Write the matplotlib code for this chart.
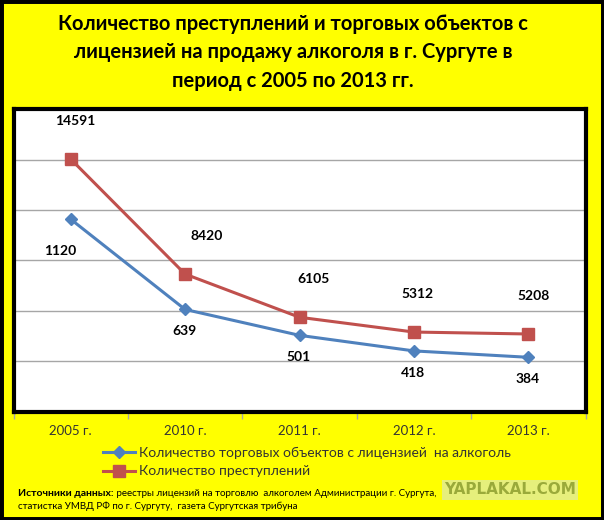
# Crimes vs licensed alcohol shops in Surgut, 2005-2013

import numpy as np
import matplotlib.pyplot as plt
from matplotlib.patches import Rectangle
from matplotlib.lines import Line2D

plt.rcParams['font.family'] = ['Lato', 'DejaVu Sans']

years = ['2005 г.', '2010 г.', '2011 г.', '2012 г.', '2013 г.']
shops = [1120, 639, 501, 418, 384]
crimes = [14591, 8420, 6105, 5312, 5208]

shops_label = 'Количество торговых объектов с лицензией  на алкоголь'
crimes_label = 'Количество преступлений'

title = ('Количество преступлений и торговых объектов с\n'
         'лицензией на продажу алкоголя в г. Сургуте в\n'
         'период с 2005 по 2013 гг.')

BLUE = '#4F81BD'
RED = '#C0504D'
YELLOW = '#FFFF00'

fig = plt.figure(figsize=(6.04, 5.2), dpi=100, facecolor=YELLOW)
ax = fig.add_axes([13.5 / 604, 1 - 411.5 / 520, 572 / 604, 302 / 520])
ax.set_facecolor('white')
ax2 = ax.twinx()

x = np.arange(len(years))

ax.set_xlim(-0.5, len(years) - 0.5)
ax.set_ylim(95, 1705)
ax2.set_ylim(1050, 17250)

# grid lines every sixth of the height, no value labels
ax.set_yticks(np.linspace(95, 1705, 7))
ax.yaxis.grid(True, color='#a6a6a6', linewidth=1)
ax.tick_params(axis='y', length=0, labelleft=False)
ax2.tick_params(axis='y', length=0, labelright=False)
ax.set_axisbelow(True)

ax.plot(x, shops, color=BLUE, linewidth=2.2, marker='D', markersize=6.5, zorder=3)
ax2.plot(x, crimes, color=RED, linewidth=2.2, marker='s', markersize=8, zorder=3)

# data labels
crime_dx = [5, 22, 14, 4, 5]
for xi, v, dx in zip(x, crimes, crime_dx):
    ax2.annotate(str(v), (xi, v), xytext=(dx * 0.72, 38 * 0.72), textcoords='offset points',
                 ha='center', va='center', fontsize=10, fontweight='bold', color='black')
shop_dx = [-10, -1, -1, -1, -1]
shop_dy = [-32, -22, -22, -22, -22]
for xi, v, dx, dy in zip(x, shops, shop_dx, shop_dy):
    ax.annotate(str(v), (xi, v), xytext=(dx * 0.72, dy * 0.72), textcoords='offset points',
                ha='center', va='center', fontsize=10, fontweight='bold', color='black')

ax.set_xticks(x, years)
ax.set_xticks(np.arange(-0.5, len(years)), minor=True)
ax.tick_params(axis='x', which='major', length=0, pad=10, labelsize=9.5, labelcolor='#333333')
ax.tick_params(axis='x', which='minor', length=5, color='#a6a6a6', width=1)

for s in ax.spines.values():
    s.set_color('black')
    s.set_linewidth(3)
for s in ax2.spines.values():
    s.set_visible(False)

fig.text(293 / 604, 1 - 52.5 / 520, title, ha='center', va='center', fontsize=14.5,
         fontweight='bold', linespacing=1.55)

handles = [Line2D([], [], color=BLUE, linewidth=2.2, marker='D', markersize=6),
           Line2D([], [], color=RED, linewidth=2.2, marker='s', markersize=8)]
fig.legend(handles, [shops_label, crimes_label], loc='upper left',
           bbox_to_anchor=(103 / 604, 1 - 447 / 520), frameon=False, fontsize=10,
           handlelength=2.3, handletextpad=0.3, borderpad=0, borderaxespad=0,
           labelspacing=0.45, labelcolor='#333333')

# source note
src = fig.text(18 / 604, 1 - 493 / 520, 'Источники данных:', fontsize=7.5, fontweight='bold',
               va='center', ha='left')
fig.add_artist(plt.Annotation(' реестры лицензий на торговлю  алкоголем Администрации г. Сургута,',
                              xy=(1, 0.5), xycoords=src, fontsize=7, va='center', ha='left'))
fig.text(18 / 604, 1 - 506 / 520, 'статистка УМВД РФ по г. Сургуту,  газета Сургутская трибуна',
         fontsize=7, va='center', ha='left')

fig.text(510 / 604, 1 - 490 / 520, 'YAPLAKAL.COM', fontsize=11, fontweight='bold',
         family='DejaVu Sans', color='#9aaa3a', ha='center', va='center',
         bbox=dict(boxstyle='square,pad=0.15', facecolor='#e6ef7c', edgecolor='none'))

fig.patches.append(Rectangle((0, 0), 1, 1, transform=fig.transFigure, fill=False,
                             edgecolor='black', linewidth=5))

fig.savefig('out.png', dpi=100, facecolor=YELLOW)
